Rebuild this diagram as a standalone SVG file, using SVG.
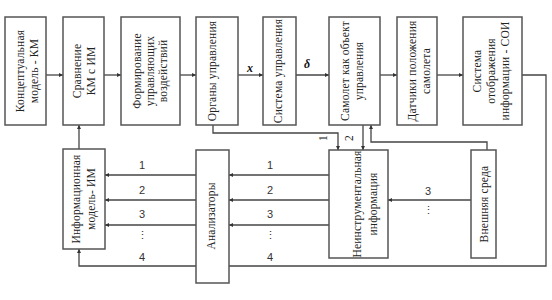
<svg xmlns="http://www.w3.org/2000/svg" width="552" height="300" viewBox="0 0 552 300">
<defs>
<marker id="ah" viewBox="0 0 10 10" refX="10" refY="5" markerWidth="5" markerHeight="4" markerUnits="userSpaceOnUse" orient="auto">
<path d="M0,0 L10,5 L0,10 z" fill="#333"/>
</marker>
</defs>
<style>
.box{fill:#fff;stroke:#555;stroke-width:1.5}
.ar{fill:none;stroke:#444;stroke-width:1.3;marker-end:url(#ah)}
.t{font-family:'Liberation Serif','DejaVu Serif',serif;font-size:11.5px;letter-spacing:0.2px;fill:#222;text-anchor:middle;dominant-baseline:central}
.n{font-family:'Liberation Sans',Arial,sans-serif;font-size:11px;fill:#333;text-anchor:middle;dominant-baseline:central}
.g{font-family:'Liberation Serif','DejaVu Serif',serif;font-size:12px;font-weight:bold;font-style:italic;fill:#111;text-anchor:middle;dominant-baseline:central}
</style>
<rect width="552" height="300" fill="#fff"/>
<g id="connectors">
<line class="ar" x1="46" y1="75" x2="63" y2="75"/>
<line class="ar" x1="104" y1="75" x2="121" y2="75"/>
<line class="ar" x1="180" y1="75" x2="196" y2="75"/>
<line class="ar" x1="238" y1="75" x2="263" y2="75"/>
<line class="ar" x1="296" y1="75" x2="329" y2="75"/>
<line class="ar" x1="380" y1="75" x2="397" y2="75"/>
<line class="ar" x1="437" y1="75" x2="463" y2="75"/>
<polyline class="ar" points="522,75 546,75 546,266 79,266 79,249"/>
<line class="ar" x1="79" y1="149" x2="79" y2="125"/>
<polyline class="ar" points="213,125 213,133 338,133 338,150"/>
<line class="ar" x1="363" y1="125" x2="363" y2="150"/>
<polyline class="ar" points="487,150 487,142 371,142 371,125"/>
<line class="ar" x1="196" y1="175" x2="105" y2="175"/>
<line class="ar" x1="196" y1="200" x2="105" y2="200"/>
<line class="ar" x1="196" y1="225" x2="105" y2="225"/>
<line class="ar" x1="329" y1="175" x2="229" y2="175"/>
<line class="ar" x1="329" y1="200" x2="229" y2="200"/>
<line class="ar" x1="329" y1="225" x2="229" y2="225"/>
<line class="ar" x1="471" y1="200" x2="388" y2="200"/>
<text class="g" x="250" y="68">x</text>
<text class="g" x="307" y="64">δ</text>
<text class="n" x="142" y="165">1</text>
<text class="n" x="142" y="190">2</text>
<text class="n" x="142" y="214">3</text>
<text class="n" x="142" y="235">⋮</text>
<text class="n" x="142" y="257">4</text>
<text class="n" x="270" y="165">1</text>
<text class="n" x="270" y="190">2</text>
<text class="n" x="270" y="214">3</text>
<text class="n" x="270" y="235">⋮</text>
<text class="n" x="270" y="257">4</text>
<text class="n" x="428" y="191">3</text>
<text class="n" x="428" y="210">⋮</text>
<text class="t" transform="translate(323,138) rotate(-90)">1</text>
<text class="t" transform="translate(349,138) rotate(-90)">2</text>
</g>
<g id="km">
<rect class="box" x="5" y="17" width="41" height="108"/>
<text class="t" transform="translate(20,71) rotate(-90)">Концептуальная</text>
<text class="t" transform="translate(34,71) rotate(-90)">модель - КМ</text>
</g>
<g id="compare">
<rect class="box" x="63" y="17" width="41" height="108"/>
<text class="t" transform="translate(77,71) rotate(-90)">Сравнение</text>
<text class="t" transform="translate(91,71) rotate(-90)">КМ с ИМ</text>
</g>
<g id="forming">
<rect class="box" x="121" y="17" width="59" height="108"/>
<text class="t" transform="translate(137,71) rotate(-90)">Формирование</text>
<text class="t" transform="translate(150,71) rotate(-90)">управляющих</text>
<text class="t" transform="translate(163,71) rotate(-90)">воздействий</text>
</g>
<g id="organs">
<rect class="box" x="196" y="17" width="42" height="108"/>
<text class="t" transform="translate(212,71) rotate(-90)">Органы управления</text>
</g>
<g id="control">
<rect class="box" x="263" y="17" width="33" height="108"/>
<text class="t" transform="translate(278,71) rotate(-90)">Система управления</text>
</g>
<g id="plane">
<rect class="box" x="329" y="17" width="51" height="108"/>
<text class="t" transform="translate(345,71) rotate(-90)">Самолет как объект</text>
<text class="t" transform="translate(359,71) rotate(-90)">управления</text>
</g>
<g id="sensors">
<rect class="box" x="397" y="17" width="40" height="108"/>
<text class="t" transform="translate(412,71) rotate(-90)">Датчики положения</text>
<text class="t" transform="translate(426,71) rotate(-90)">самолета</text>
</g>
<g id="soi">
<rect class="box" x="463" y="17" width="59" height="108"/>
<text class="t" transform="translate(477,71) rotate(-90)">Система</text>
<text class="t" transform="translate(491,71) rotate(-90)">отображения</text>
<text class="t" transform="translate(505,71) rotate(-90)">информации - СОИ</text>
</g>
<g id="im">
<rect class="box" x="63" y="149" width="42" height="100"/>
<text class="t" transform="translate(76,199) rotate(-90)">Информационная</text>
<text class="t" transform="translate(91,199) rotate(-90)">модель- ИМ</text>
</g>
<g id="analyzers">
<rect class="box" x="196" y="150" width="33" height="133"/>
<text class="t" transform="translate(211,216) rotate(-90)">Анализаторы</text>
</g>
<g id="noninstr">
<rect class="box" x="329" y="150" width="59" height="108"/>
<text class="t" transform="translate(357,204) rotate(-90)">Неинструментальная</text>
<text class="t" transform="translate(373,204) rotate(-90)">информация</text>
</g>
<g id="env">
<rect class="box" x="471" y="150" width="25" height="108"/>
<text class="t" transform="translate(484,204) rotate(-90)">Внешняя среда</text>
</g>
</svg>
